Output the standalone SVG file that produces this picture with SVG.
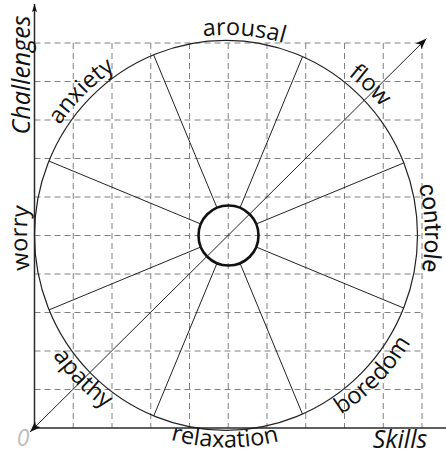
<svg xmlns="http://www.w3.org/2000/svg" xmlns:xlink="http://www.w3.org/1999/xlink" width="446" height="455" viewBox="0 0 446 455">
  <style>
    .grid line { stroke: #808080; stroke-width: 1; stroke-dasharray: 6 4; fill: none; }
    .axis { stroke: #2a2a2a; stroke-width: 1.5; fill: none; }
    .spoke { stroke: #222; stroke-width: 1; fill: none; }
    .rim { stroke: #222; stroke-width: 1.2; fill: none; }
    .hub { stroke: #111; stroke-width: 2.6; fill: none; }
    .lbl { font-family: "Open Sans", "Liberation Sans", sans-serif; font-size: 23.5px; fill: #111; text-anchor: middle; }
    .edge { font-family: Roboto, "Open Sans", sans-serif; font-size: 24px; }
    .ax { font-family: "Open Sans", "Liberation Sans", sans-serif; font-size: 25px; font-style: italic; fill: #111; text-anchor: middle; }
    .zero { font-family: "Open Sans", "Liberation Sans", sans-serif; font-size: 23px; font-style: italic; fill: #bdbdbd; text-anchor: middle; }
  </style>
  <defs>
    <marker id="arr" viewBox="0 0 11 8" refX="11" refY="4" markerWidth="11" markerHeight="8" markerUnits="userSpaceOnUse" orient="auto-start-reverse">
      <path d="M0,0 L11,4 L0,8 L2.5,4 z" fill="#111"/>
    </marker>
    <marker id="arrY" viewBox="0 0 8 5" refX="8" refY="2.5" markerWidth="8" markerHeight="5" markerUnits="userSpaceOnUse" orient="auto">
      <path d="M0,0 L8,2.5 L0,5 L1.5,2.5 z" fill="#111"/>
    </marker>
    <path id="topArc" d="M227.5,436 A200.5,200.5 0 0 1 227.5,35 A200.5,200.5 0 0 1 227.5,436"/>
    <path id="botArc" d="M227.5,23.5 A212,212 0 0 0 227.5,447.5 A212,212 0 0 0 227.5,23.5"/>
  </defs>

  <g id="grid" class="grid">
    <line x1="73.25" y1="43" x2="73.25" y2="428"/>
    <line x1="112" y1="43" x2="112" y2="428"/>
    <line x1="150.75" y1="43" x2="150.75" y2="428"/>
    <line x1="189.5" y1="43" x2="189.5" y2="428"/>
    <line x1="228.25" y1="43" x2="228.25" y2="428"/>
    <line x1="267" y1="43" x2="267" y2="428"/>
    <line x1="305.75" y1="43" x2="305.75" y2="428"/>
    <line x1="344.5" y1="43" x2="344.5" y2="428"/>
    <line x1="383.25" y1="43" x2="383.25" y2="428"/>
    <line x1="422" y1="43" x2="422" y2="428"/>
    <line x1="34.5" y1="43" x2="422" y2="43"/>
    <line x1="34.5" y1="81.5" x2="422" y2="81.5"/>
    <line x1="34.5" y1="120" x2="422" y2="120"/>
    <line x1="34.5" y1="158.5" x2="422" y2="158.5"/>
    <line x1="34.5" y1="197" x2="422" y2="197"/>
    <line x1="34.5" y1="235.5" x2="422" y2="235.5"/>
    <line x1="34.5" y1="274" x2="422" y2="274"/>
    <line x1="34.5" y1="312.5" x2="422" y2="312.5"/>
    <line x1="34.5" y1="351" x2="422" y2="351"/>
    <line x1="34.5" y1="389.5" x2="422" y2="389.5"/>
  </g>

  <g id="axes">
    <line class="axis" x1="34.5" y1="430" x2="34.5" y2="4" marker-end="url(#arrY)"/>
    <line class="axis" x1="34.5" y1="428" x2="446" y2="428"/>
    <text class="ax" transform="translate(30,75) rotate(-90)">Challenges</text>
    <text class="ax" x="400" y="448">Skills</text>
    <text class="zero" x="23" y="446">0</text>
  </g>

  <g id="wheel">
    <ellipse class="rim" cx="226" cy="235.3" rx="191.5" ry="195"/>
    <circle class="hub" cx="228.5" cy="235.5" r="30"/>
  </g>

  <g id="connectors">
    <line class="spoke" x1="256.2" y1="247" x2="403.8" y2="308.1"/>
    <line class="spoke" x1="256.2" y1="224" x2="403.8" y2="162.9"/>
    <line class="spoke" x1="240" y1="263.2" x2="302.5" y2="414.2"/>
    <line class="spoke" x1="240" y1="207.8" x2="302.5" y2="56.8"/>
    <line class="spoke" x1="217" y1="263.2" x2="153.7" y2="416"/>
    <line class="spoke" x1="217" y1="207.8" x2="153.7" y2="55"/>
    <line class="spoke" x1="200.8" y1="247" x2="49" y2="309.9"/>
    <line class="spoke" x1="200.8" y1="224" x2="49" y2="161.1"/>
    <line class="spoke" x1="30" y1="432" x2="426.5" y2="38.5" marker-start="url(#arr)" marker-end="url(#arr)"/>
  </g>

  <g id="worry"><text class="lbl"><textPath href="#topArc" xlink:href="#topArc" startOffset="24.8%">worry</textPath></text></g>
  <g id="anxiety"><text class="lbl"><textPath href="#topArc" xlink:href="#topArc" startOffset="37.4%">anxiety</textPath></text></g>
  <g id="arousal"><text class="lbl"><textPath href="#topArc" xlink:href="#topArc" startOffset="51.3%">arousal</textPath></text></g>
  <g id="flow"><text class="lbl"><textPath href="#topArc" xlink:href="#topArc" startOffset="62.1%">flow</textPath></text></g>
  <g id="controle"><text class="lbl edge" dy="3"><textPath href="#topArc" xlink:href="#topArc" startOffset="74.4%">controle</textPath></text></g>
  <g id="apathy"><text class="lbl"><textPath href="#botArc" xlink:href="#botArc" startOffset="37.4%">apathy</textPath></text></g>
  <g id="relaxation"><text class="lbl"><textPath href="#botArc" xlink:href="#botArc" startOffset="49.8%">relaxation</textPath></text></g>
  <g id="boredom"><text class="lbl"><textPath href="#botArc" xlink:href="#botArc" startOffset="62.8%">boredom</textPath></text></g>
</svg>
